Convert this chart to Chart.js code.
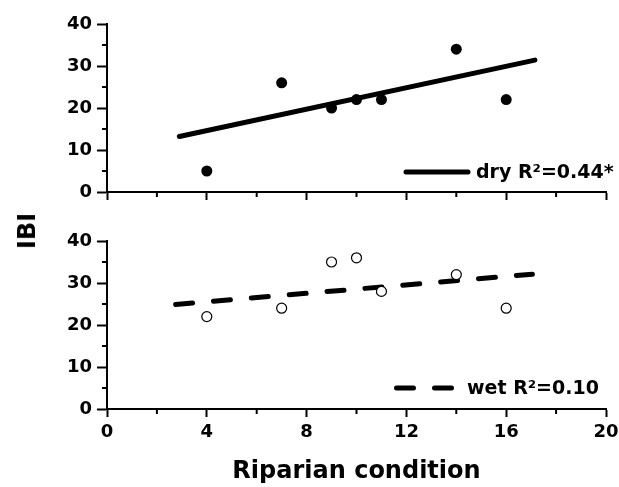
<!DOCTYPE html>
<html lang="en">
<head>
<meta charset="UTF-8">
<title>IBI vs riparian condition</title>
<script src="https://cdn.jsdelivr.net/npm/chart.js"></script>
<style>
  body { margin: 0; background: #fff; }
  #wrap { position: relative; width: 619px; height: 487px; }
  canvas { position: absolute; left: 0; }
  #dry { top: 0; }
  #wet { top: 215px; }
  #ylabel {
    position: absolute; left: 27px; top: 231px;
    transform: translate(-50%, -50%) rotate(-90deg);
    font: bold 24px 'DejaVu Sans', sans-serif; white-space: nowrap;
  }
</style>
</head>
<body>
<div id="wrap">
  <canvas id="dry" width="619" height="215"></canvas>
  <canvas id="wet" width="619" height="272"></canvas>
  <div id="ylabel">IBI</div>
</div>
<script>
const conditionDry = [4, 7, 9, 10, 11, 14, 16];
const ibiDry = [5, 26, 20, 22, 22, 34, 22];
const conditionWet = [4, 7, 9, 10, 11, 14, 16];
const ibiWet = [22, 24, 35, 36, 28, 32, 24];
// regression lines, end points
const fitDryX = [2.9, 17.15];
const fitDryY = [13.2, 31.4];
const fitWetX = [2.75, 17.05];
const fitWetY = [24.9, 32.1];
const xMinorTicks = [2, 6, 10, 14, 18];
const yMinorTicks = [5, 15, 25, 35];

const family = "'DejaVu Sans', sans-serif";

function pts(xs, ys) {
    return xs.map((x, i) => ({ x: x, y: ys[i] }));
}

// short unlabeled ticks between the major ones
const minorTicks = {
    id: "minorTicks",
    afterDraw(chart) {
        const { ctx, chartArea: { left, bottom }, scales: { x, y } } = chart;
        ctx.save();
        ctx.strokeStyle = "#000";
        ctx.lineWidth = 2;
        ctx.beginPath();
        xMinorTicks.forEach(v => {
            const px = x.getPixelForValue(v);
            ctx.moveTo(px, bottom);
            ctx.lineTo(px, bottom + 5);
        });
        yMinorTicks.forEach(v => {
            const py = y.getPixelForValue(v);
            ctx.moveTo(left, py);
            ctx.lineTo(left - 5, py);
        });
        ctx.stroke();
        ctx.restore();
    }
};

// legend sample + text in the lower right corner
const fitLegend = {
    id: "fitLegend",
    afterDraw(chart, args, opts) {
        const ctx = chart.ctx;
        ctx.save();
        ctx.strokeStyle = "#000";
        ctx.lineWidth = 5;
        ctx.lineCap = "round";
        ctx.setLineDash(opts.dash);
        ctx.beginPath();
        ctx.moveTo(opts.x0, opts.y);
        ctx.lineTo(opts.x1, opts.y);
        ctx.stroke();
        ctx.setLineDash([]);
        ctx.fillStyle = "#000";
        ctx.font = "bold 19px " + family;
        ctx.textBaseline = "middle";
        ctx.fillText(opts.text, opts.tx, opts.y + 1);
        ctx.restore();
    }
};

function makePanel(id, points, filled, fit, dash, legend, bottomAxis) {
    const canvas = document.getElementById(id);
    const tickFont = { family: family, size: 18, weight: "bold" };
    return new Chart(canvas.getContext("2d"), {
        type: "scatter",
        data: {
            datasets: [
                {
                    data: points,
                    pointRadius: filled ? 5.5 : 5,
                    pointBackgroundColor: filled ? "#000" : "#fff",
                    pointBorderColor: "#000",
                    pointBorderWidth: filled ? 0 : 1.2
                },
                {
                    type: "line",
                    data: fit,
                    showLine: true,
                    fill: false,
                    tension: 0,
                    borderColor: "#000",
                    borderWidth: 5,
                    borderCapStyle: "round",
                    borderDash: dash,
                    pointRadius: 0
                }
            ]
        },
        options: {
            responsive: false,
            animation: false,
            devicePixelRatio: 1,
            layout: { padding: { left: 0, right: 13, top: bottomAxis ? 26 : 24, bottom: 0 } },
            plugins: {
                legend: { display: false },
                tooltip: { enabled: false },
                fitLegend: legend
            },
            scales: {
                x: {
                    type: "linear",
                    min: 0,
                    max: 20,
                    border: { color: "#000", width: 2 },
                    grid: { drawOnChartArea: false, tickLength: 8, tickWidth: 2, tickColor: "#000" },
                    ticks: { display: bottomAxis, stepSize: 4, font: tickFont, color: "#000", padding: 5, maxRotation: 0 },
                    title: {
                        display: bottomAxis,
                        text: "Riparian condition",
                        color: "#000",
                        font: { family: family, size: 24, weight: "bold" },
                        padding: { top: 0, bottom: 1 }
                    },
                    afterFit: s => {
                        s.height = bottomAxis ? 78 : 23;
                        s.paddingLeft = 0;
                        s.paddingRight = 0;
                    }
                },
                y: {
                    min: 0,
                    max: 40,
                    border: { color: "#000", width: 2 },
                    grid: { drawOnChartArea: false, tickLength: 10, tickWidth: 2, tickColor: "#000" },
                    ticks: { stepSize: 10, font: tickFont, color: "#000", padding: 5 },
                    afterFit: s => { s.width = 107; }
                }
            }
        },
        plugins: [minorTicks, fitLegend]
    });
}

makePanel("dry", pts(conditionDry, ibiDry), true, pts(fitDryX, fitDryY), [],
    { text: "dry R\u00b2=0.44*", dash: [], x0: 406, x1: 468, y: 172, tx: 476 }, false);
makePanel("wet", pts(conditionWet, ibiWet), false, pts(fitWetX, fitWetY), [17, 21],
    { text: "wet R\u00b2=0.10", dash: [17, 21], x0: 396.5, x1: 456, y: 173, tx: 467 }, true);
</script>
</body>
</html>
